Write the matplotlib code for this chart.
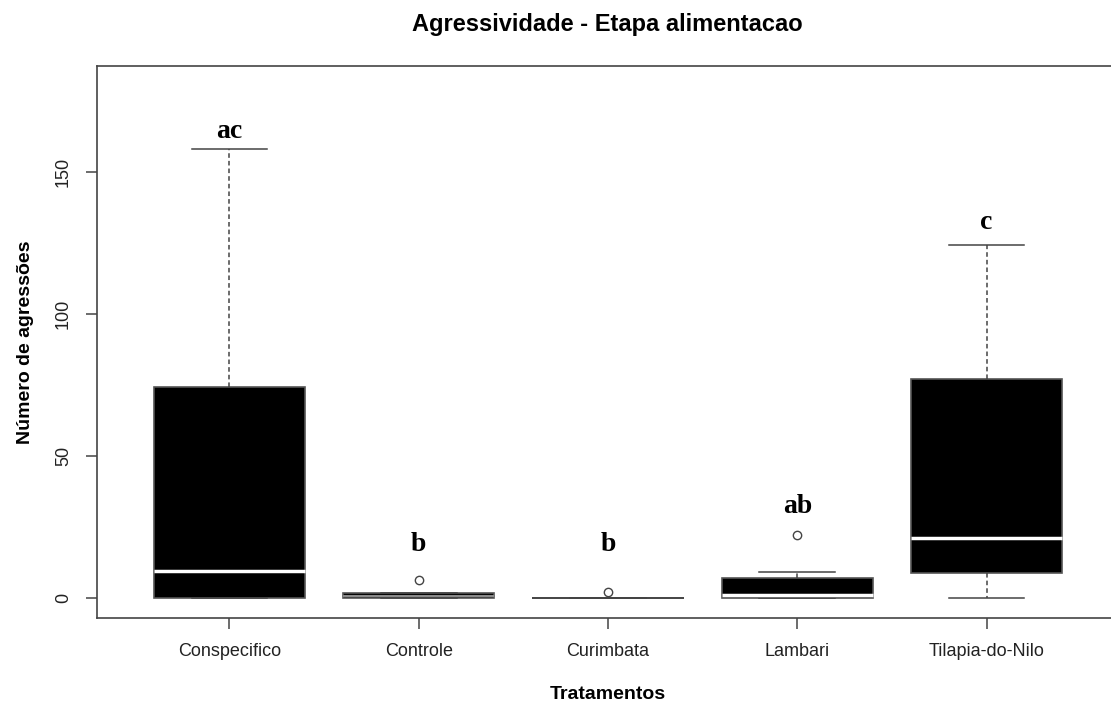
import matplotlib
matplotlib.use("Agg")
import matplotlib.pyplot as plt

# boxplot summary per treatment
tratamentos = ["Conspecifico", "Controle", "Curimbata", "Lambari", "Tilapia-do-Nilo"]
whislo = [0, 0, 0, 0, 0]
q1 = [0, 0, 0, 0, 8.5]
med = [9.5, 0.7, 0, 1, 21]
q3 = [74, 1.5, 0, 7, 77]
whishi = [158, 1.5, 0, 9, 124]
outliers = [[], [6], [2], [22], []]
letras = ["ac", "b", "b", "ab", "c"]
letra_y = [164, 18.5, 18.5, 32, 132]

stats = []
for i, nome in enumerate(tratamentos):
    stats.append(dict(label=nome, whislo=whislo[i], q1=q1[i], med=med[i],
                      q3=q3[i], whishi=whishi[i], fliers=outliers[i]))

plt.rcParams["font.family"] = ["Liberation Sans", "DejaVu Sans"]

fig = plt.figure(figsize=(11.11, 7.04), dpi=100)
ax = fig.add_axes([0.0873, 0.1222, 0.920, 0.7841])

edge = "#444444"
bp = ax.bxp(
    stats,
    positions=range(1, 6),
    widths=0.8,
    patch_artist=True,
    boxprops=dict(facecolor="black", edgecolor="#555555", linewidth=1.2),
    medianprops=dict(color="white", linewidth=2.5),
    whiskerprops=dict(color=edge, linestyle=(0, (3, 2)), linewidth=1.1),
    capprops=dict(color=edge, linewidth=1.1),
    capwidths=0.4,
    flierprops=dict(marker="o", markerfacecolor="white", markeredgecolor=edge,
                    markersize=6, markeredgewidth=1.0),
)
# very thin box of "Controle": the median blends with the fill
bp["medians"][1].set_linewidth(1.5)
bp["medians"][1].set_color("#8a8a8a")
# "Curimbata" is all zeros: show it as a flat dark line
bp["medians"][2].set_linewidth(1.3)
bp["medians"][2].set_color(edge)

for i, (txt, yy) in enumerate(zip(letras, letra_y)):
    ax.text(i + 1, yy, txt, ha="center", va="center", fontsize=20,
            fontweight="bold", family=["Liberation Serif", "DejaVu Serif"])

ax.set_xlim(0.3, 5.7)
ax.set_ylim(-7.2, 187.2)
ax.set_yticks([0, 50, 100, 150])
ax.set_yticklabels(["0", "50", "100", "150"], rotation=90, va="center")
ax.set_xticks(range(1, 6))
ax.set_xticklabels(tratamentos)

for s in ax.spines.values():
    s.set_color(edge)
    s.set_linewidth(1.2)
ax.tick_params(axis="both", length=8, width=1.1, color=edge, labelsize=13,
               labelcolor="#222222", pad=10)

ax.set_xlabel("Tratamentos", fontsize=14, fontweight="bold", labelpad=19)
ax.set_ylabel("Número de agressões", fontsize=14, fontweight="bold", labelpad=15)
fig.suptitle("Agressividade - Etapa alimentacao", fontsize=17, fontweight="bold",
             x=0.547, y=0.982)

fig.savefig("out.png", dpi=100)
